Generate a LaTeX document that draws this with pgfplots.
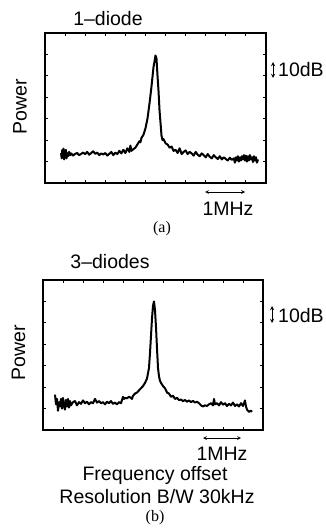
\documentclass[border=0pt]{standalone}
\usepackage{fontspec}
\setmainfont{Liberation Sans}
\newfontfamily\seriffont{Liberation Serif}
\usepackage{pgfplots}
\pgfplotsset{compat=1.18}
\begin{document}
\begin{tikzpicture}
\pgfplotsset{
 spec/.style={
  scale only axis, anchor=south west,
  height=150pt,
  xmin=0,xmax=11,ymin=0,ymax=7,
  xtick={1,...,10}, ytick={1,...,6},
  xticklabels={}, yticklabels={},
  tick align=inside, major tick length=3pt,
  axis line style={line width=2pt},
  every tick/.style={black, line width=0.9pt},
 }
}
\path[use as bounding box] (0,0) rectangle (325pt,-532pt);
\fontsize{19.5}{22}\selectfont
% ---------- panel (a)
\begin{axis}[spec, at={(45pt,-183pt)}, width=221pt]
\addplot[black, line width=2pt, line join=round] coordinates {
(0.80,1.40) (0.83,1.15) (0.86,1.55) (0.89,1.20) (0.92,1.60) (0.95,1.10) (0.98,1.45) (1.01,1.25)
(1.04,1.55) (1.07,1.15) (1.10,1.40) (1.15,1.25) (1.20,1.45) (1.25,1.30) (1.30,1.38) (1.40,1.28)
(1.50,1.36) (1.60,1.40) (1.70,1.30) (1.80,1.36) (1.90,1.42)
(2.00,1.35) (2.10,1.45) (2.20,1.32) (2.30,1.40) (2.40,1.48) (2.50,1.36) (2.60,1.42) (2.70,1.30)
(2.80,1.38) (2.90,1.33) (3.00,1.40) (3.10,1.28) (3.20,1.36) (3.30,1.45) (3.40,1.30) (3.50,1.42)
(3.60,1.35) (3.70,1.50) (3.80,1.38) (3.90,1.55) (4.00,1.40) (4.10,1.62) (4.20,1.45) (4.25,1.75)
(4.30,1.50) (4.40,1.58) (4.50,1.65) (4.60,1.80) (4.70,1.95) (4.75,1.90) (4.80,2.10) (4.90,2.25)
(5.00,2.55) (5.10,3.00) (5.20,3.70) (5.30,4.50) (5.40,5.40) (5.50,5.95) (5.55,5.80) (5.60,5.00)
(5.65,4.30) (5.70,3.40) (5.75,2.80) (5.80,2.20) (5.85,2.00) (5.90,2.05) (6.00,1.85) (6.10,1.80)
(6.20,1.65) (6.30,1.70) (6.40,1.50) (6.50,1.55) (6.60,1.40) (6.70,1.62) (6.80,1.35) (6.90,1.45)
(7.00,1.52) (7.10,1.35) (7.20,1.45) (7.30,1.38) (7.40,1.28) (7.50,1.45) (7.60,1.32) (7.70,1.25)
(7.80,1.38) (7.90,1.30) (8.00,1.20) (8.10,1.35) (8.20,1.22) (8.30,1.15) (8.40,1.30) (8.50,1.20)
(8.60,1.12) (8.70,1.25) (8.80,1.10) (8.90,1.20) (9.00,1.12) (9.10,1.05) (9.20,1.18) (9.30,1.08)
(9.40,1.15) (9.45,0.95) (9.50,1.20) (9.55,1.05) (9.60,1.25) (9.65,1.00) (9.70,1.20) (9.75,1.05)
(9.80,1.25) (9.85,1.10) (9.90,1.30) (9.95,1.05) (10.00,1.28) (10.05,1.00) (10.10,1.25) (10.15,1.05)
(10.20,1.30) (10.25,1.10) (10.30,1.20) (10.35,0.98) (10.40,1.25) (10.45,1.05) (10.50,1.20) (10.55,0.95)
(10.60,1.10)
};
\end{axis}
\node[anchor=base] at (108pt,-26pt) {1--diode};
\node[rotate=90] at (20pt,-106.5pt) {Power};
\draw[line width=0.9pt, <->, >=stealth] (273pt,-62pt) -- (273pt,-78pt);
\node[anchor=base west, inner sep=0pt] at (278pt,-77pt) {10dB};
\draw[line width=0.7pt, <->, >=stealth] (205pt,-192pt) -- (245pt,-192pt);
\node[anchor=base] at (228pt,-215pt) {1MHz};
\node[anchor=base, font=\seriffont\fontsize{16}{18}\selectfont] at (162pt,-232pt) {(a)};
% ---------- panel (b)
\begin{axis}[spec, at={(43pt,-430pt)}, width=220pt]
\addplot[black, line width=2pt, line join=round] coordinates {
(0.60,1.65) (0.65,1.20) (0.70,1.45) (0.75,0.90) (0.80,1.30) (0.85,1.10) (0.90,1.45) (0.95,1.00)
(1.00,1.50) (1.05,1.15) (1.10,0.95) (1.15,1.40) (1.20,1.10) (1.25,1.45) (1.30,1.05) (1.35,1.35)
(1.40,1.15) (1.50,1.30) (1.60,1.35) (1.70,1.15) (1.80,1.30) (1.90,1.22) (2.00,1.38) (2.10,1.25)
(2.20,1.32) (2.30,1.20) (2.40,1.30) (2.50,1.25) (2.60,1.45) (2.70,1.28) (2.80,1.35) (2.90,1.25)
(3.00,1.30) (3.10,1.20) (3.20,1.32) (3.30,1.25) (3.40,1.35) (3.50,1.22) (3.60,1.28) (3.70,1.20)
(3.80,1.30) (3.90,1.25) (4.00,1.55) (4.05,1.45) (4.10,1.50) (4.20,1.48) (4.30,1.55) (4.40,1.50)
(4.45,1.45) (4.50,1.60) (4.60,1.70) (4.70,1.75) (4.80,1.85) (4.90,1.95) (5.00,2.05) (5.10,2.20)
(5.20,2.40) (5.30,2.90) (5.35,3.60) (5.40,4.40) (5.45,5.20) (5.50,5.80) (5.55,6.00) (5.60,5.60)
(5.65,4.80) (5.70,3.80) (5.75,2.90) (5.80,2.50) (5.85,2.30) (5.90,2.20) (6.00,2.05) (6.10,1.95)
(6.20,1.75) (6.30,1.70) (6.40,1.55) (6.50,1.60) (6.60,1.45) (6.70,1.50) (6.80,1.40) (6.90,1.42)
(7.00,1.35) (7.10,1.40) (7.20,1.32) (7.30,1.38) (7.40,1.30) (7.50,1.36) (7.60,1.28) (7.70,1.32)
(7.80,1.25) (7.90,1.15) (8.00,1.10) (8.10,1.15) (8.20,1.12) (8.30,1.20) (8.40,1.25) (8.50,1.15)
(8.55,1.45) (8.60,1.20) (8.70,1.25) (8.80,1.15) (8.90,1.30) (9.00,1.18) (9.10,1.25) (9.20,1.12)
(9.30,1.22) (9.40,1.15) (9.50,1.28) (9.60,1.12) (9.70,1.20) (9.80,1.10) (9.90,1.25) (10.00,1.12)
(10.10,1.38) (10.15,1.10) (10.20,0.95) (10.30,0.85) (10.40,0.90) (10.45,0.85)
};
\end{axis}
\node[anchor=base] at (110pt,-268pt) {3--diodes};
\node[rotate=90] at (18.5pt,-353pt) {Power};
\draw[line width=0.9pt, <->, >=stealth] (272pt,-306pt) -- (272pt,-323pt);
\node[anchor=base west, inner sep=0pt] at (278pt,-322pt) {10dB};
\draw[line width=0.7pt, <->, >=stealth] (203pt,-438pt) -- (241pt,-438pt);
\node[anchor=base] at (222pt,-460pt) {1MHz};
\node[anchor=base] at (155pt,-480pt) {Frequency offset};
\node[anchor=base] at (157pt,-503pt) {Resolution B/W 30kHz};
\node[anchor=base, font=\seriffont\fontsize{16}{18}\selectfont] at (155pt,-521pt) {(b)};
\end{tikzpicture}
\end{document}
